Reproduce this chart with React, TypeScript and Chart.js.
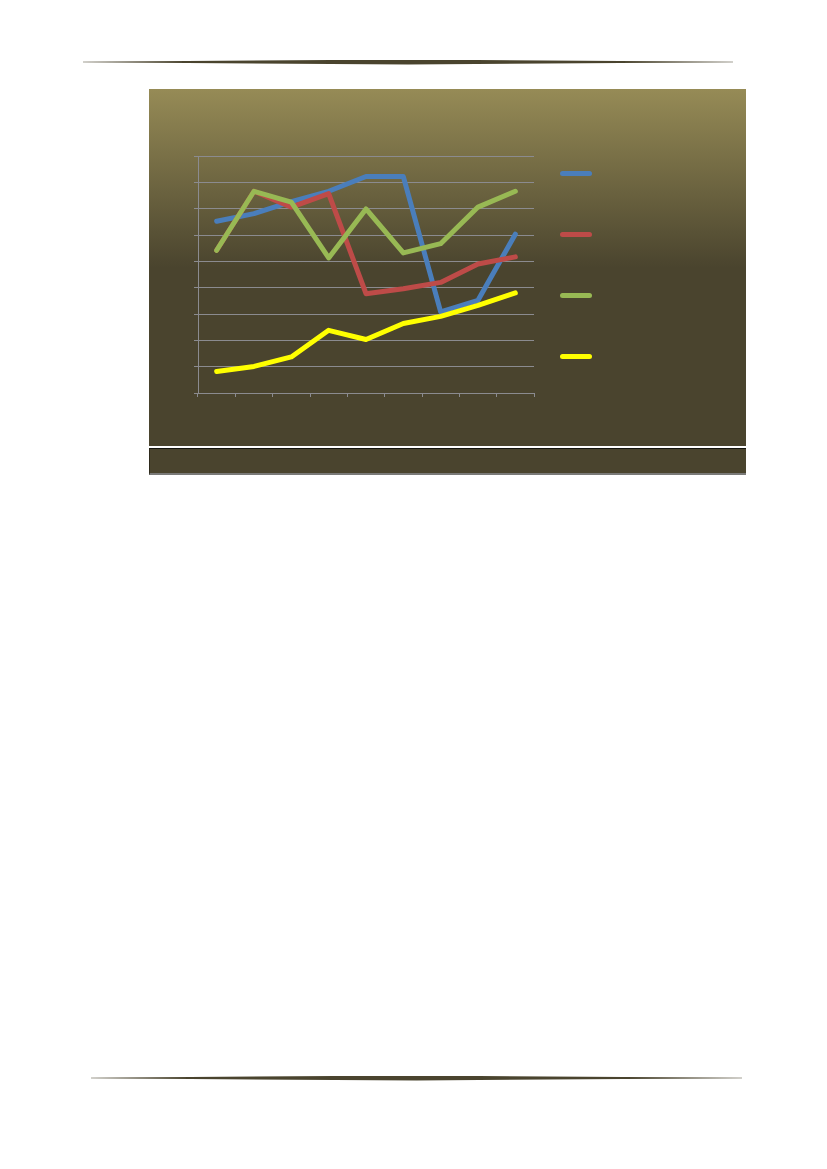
import { useEffect, useRef } from "react";
import { Chart, registerables } from "chart.js";

Chart.register(...registerables);

const categories = ["1", "2", "3", "4", "5", "6", "7", "8", "9"];

const seriesNames = ["Series 1", "Series 2", "Series 3", "Series 4"];

const blueValues = [6.52, 6.81, 7.27, 7.66, 8.22, 8.22, 3.08, 3.52, 6.03];
const redValues = [5.42, 7.66, 7.06, 7.57, 3.77, 3.96, 4.2, 4.9, 5.17];
const greenValues = [5.42, 7.66, 7.25, 5.13, 6.99, 5.32, 5.67, 7.06, 7.66];
const yellowValues = [0.82, 1.01, 1.37, 2.38, 2.03, 2.64, 2.91, 3.33, 3.8];

const seriesColors = ["#4a7ebb", "#be4b48", "#98b954", "#ffff00"];

const PANEL_BG = "#4a442e";
const GRID = "#8b8b8f";

function Rule({ left, top, width }: { left: number; top: number; width: number }) {
  return (
    <div
      style={{
        position: "absolute",
        left,
        top: top - 2.5,
        width,
        height: 5,
        background: PANEL_BG,
        clipPath: "polygon(0 45%, 50% 0, 100% 45%, 100% 55%, 50% 100%, 0 55%)",
      }}
    />
  );
}

export default function App() {
  const canvasRef = useRef<HTMLCanvasElement>(null);
  const chartRef = useRef<Chart | null>(null);

  useEffect(() => {
    const canvas = canvasRef.current;
    if (!canvas) return;
    if (chartRef.current) chartRef.current.destroy();

    const values = [blueValues, redValues, greenValues, yellowValues];

    chartRef.current = new Chart(canvas, {
      type: "line",
      data: {
        labels: categories,
        datasets: values.map((data, i) => ({
          label: seriesNames[i],
          data,
          borderColor: seriesColors[i],
          borderWidth: 5,
          borderCapStyle: "round" as const,
          borderJoinStyle: "round" as const,
          pointRadius: 0,
          fill: false,
          tension: 0,
          // Excel style: later series drawn on top
          order: values.length - i,
        })),
      },
      options: {
        animation: false,
        responsive: false,
        maintainAspectRatio: false,
        layout: { padding: { left: 45, right: 212, top: 67, bottom: 49 } },
        plugins: {
          legend: { display: false },
          tooltip: { enabled: false },
        },
        scales: {
          x: {
            offset: true,
            grid: {
              offset: true,
              drawOnChartArea: false,
              drawTicks: true,
              tickLength: 4,
              color: GRID,
            },
            border: { display: true, color: GRID, width: 1 },
            ticks: { display: false },
          },
          y: {
            min: 0,
            max: 9,
            grid: { color: GRID, lineWidth: 1, drawTicks: true, tickLength: 4 },
            border: { display: true, color: GRID, width: 1 },
            ticks: { display: false, stepSize: 1 },
          },
        },
      },
    });

    return () => {
      chartRef.current?.destroy();
      chartRef.current = null;
    };
  }, []);

  return (
    <div style={{ position: "absolute", left: 0, top: 0, width: 827, height: 1169 }}>
      <Rule left={83} top={62} width={650} />

      <div
        style={{
          position: "absolute",
          left: 149,
          top: 89,
          width: 597,
          height: 357,
          background: `linear-gradient(180deg, #968b56 0%, ${PANEL_BG} 50%, ${PANEL_BG} 100%)`,
        }}
      >
        <canvas ref={canvasRef} width={597} height={357} style={{ display: "block" }} />
        <div
          style={{
            position: "absolute",
            left: 411,
            top: 82,
            display: "flex",
            flexDirection: "column",
            gap: 56,
          }}
        >
          {seriesColors.map((c, i) => (
            <span
              key={seriesNames[i]}
              title={seriesNames[i]}
              style={{ display: "block", width: 32, height: 5, borderRadius: 3, background: c }}
            />
          ))}
        </div>
      </div>

      <div
        style={{
          position: "absolute",
          left: 149,
          top: 448,
          width: 596,
          height: 24,
          background: PANEL_BG,
          borderTop: "1px solid #151510",
          borderBottom: "2px solid #7a7a78",
          borderLeft: "1px solid #2e2a1c",
        }}
      />

      <Rule left={91} top={1078} width={651} />
    </div>
  );
}
